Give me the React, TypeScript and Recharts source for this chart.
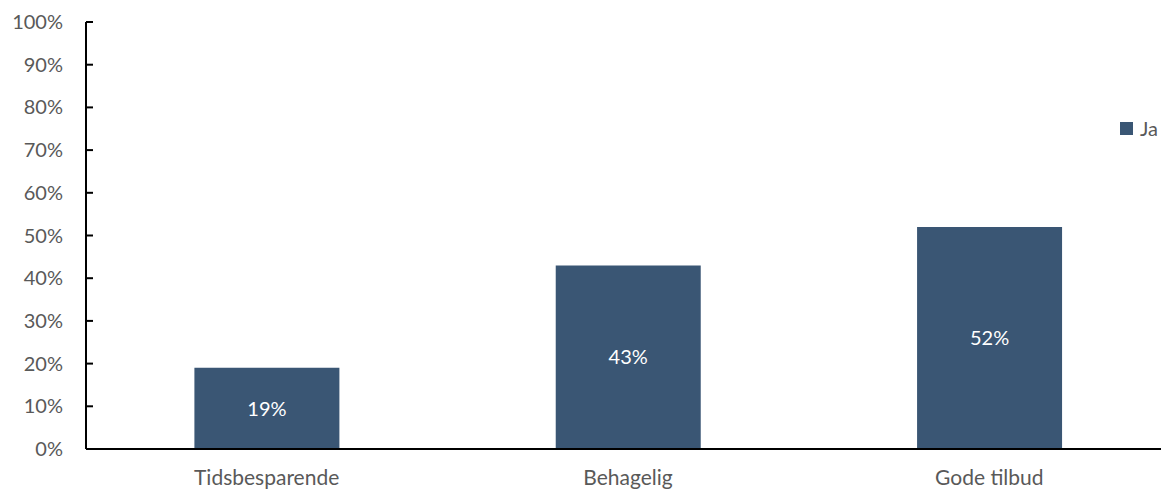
import { Bar, BarChart, LabelList, XAxis, YAxis } from "recharts";

const categories = ["Tidsbesparende", "Behagelig", "Gode tilbud"];
const jaValues = [0.19, 0.43, 0.52];
const yTicks = [0, 0.1, 0.2, 0.3, 0.4, 0.5, 0.6, 0.7, 0.8, 0.9, 1];
const seriesName = "Ja";

const BAR_COLOR = "#3A5674";
const TEXT_COLOR = "#595959";
const FONT = "Lato, 'Open Sans', sans-serif";

const data = categories.map((name, i) => ({ name, Ja: jaValues[i] }));

const pct = (v: number) => `${Math.round(v * 100)}%`;

// y tick: label on the left, short tick mark pointing into the plot
function YTick(props: any) {
  const { x, y, payload } = props;
  return (
    <g>
      <text
        x={x}
        y={y}
        dy={7}
        textAnchor="end"
        fill={TEXT_COLOR}
        fontSize={20}
        fontFamily={FONT}
      >
        {pct(payload.value)}
      </text>
      <line x1={x + 23} x2={x + 30} y1={y} y2={y} stroke="#000" strokeWidth={2} />
    </g>
  );
}

export default function App() {
  return (
    <div style={{ position: "absolute", left: 0, top: 0, width: 1161, height: 490, overflow: "hidden", background: "#fff" }}>
      <BarChart
        width={1170}
        height={490}
        data={data}
        margin={{ top: 22, right: 0, bottom: 0, left: 0 }}
        barCategoryGap="30%"
      >
        <XAxis
          dataKey="name"
          axisLine={{ stroke: "#000", strokeWidth: 2 }}
          tickLine={false}
          height={41}
          tickMargin={15}
          tick={{ fill: TEXT_COLOR, fontSize: 21, fontFamily: FONT }}
        />
        <YAxis
          domain={[0, 1]}
          ticks={yTicks}
          width={86}
          axisLine={{ stroke: "#000", strokeWidth: 2 }}
          tickLine={false}
          tickSize={0}
          tickMargin={23}
          tick={<YTick />}
          interval={0}
        />
        <Bar dataKey="Ja" name={seriesName} fill={BAR_COLOR} isAnimationActive={false}>
          <LabelList
            dataKey="Ja"
            position="center"
            formatter={(v: any) => pct(Number(v))}
            fill="#fff"
            fontSize={20}
            fontFamily={FONT}
          />
        </Bar>
      </BarChart>
      <div
        style={{
          position: "absolute",
          left: 1120,
          top: 116,
          display: "flex",
          alignItems: "center",
          fontFamily: FONT,
          fontSize: 20,
          color: TEXT_COLOR,
        }}
      >
        <span style={{ width: 13, height: 13, background: BAR_COLOR, marginRight: 7, display: "inline-block" }} />
        {seriesName}
      </div>
    </div>
  );
}
